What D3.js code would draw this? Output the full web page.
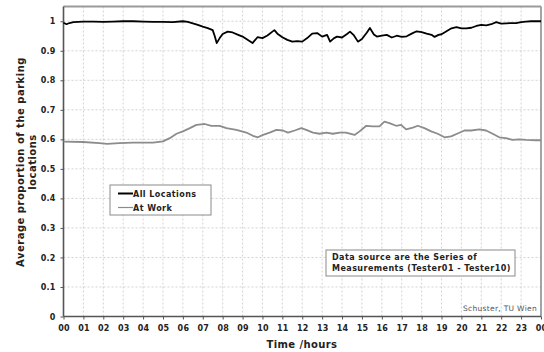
<!DOCTYPE html>
<html>
<head>
<meta charset="utf-8">
<script src="https://cdn.jsdelivr.net/npm/d3@7"></script>
<style>
  html, body { margin: 0; padding: 0; background: #fff; }
  svg { display: block; }
  text { font-family: "DejaVu Sans", Verdana, sans-serif; }
</style>
</head>
<body>
<svg id="chart" width="544" height="352"></svg>
<script>
// Hour-of-day ticks along the x axis
const hourLabels = ["00","01","02","03","04","05","06","07","08","09","10","11",
  "12","13","14","15","16","17","18","19","20","21","22","23","00"];
const yTicks = [0, 0.1, 0.2, 0.3, 0.4, 0.5, 0.6, 0.7, 0.8, 0.9, 1];
const yTickLabels = ["0","0.1","0.2","0.3","0.4","0.5","0.6","0.7","0.8","0.9","1"];

// All Locations: time of day (hours) and average proportion
const allTimes = [0, 0.15, 0.3, 0.5, 0.75, 1, 1.5, 2, 2.5, 3, 3.5, 4, 4.5, 5, 5.5, 6, 6.25, 6.5, 6.75,
  7, 7.25, 7.5, 7.6, 7.7, 7.85, 8, 8.25, 8.5, 8.75, 9, 9.25, 9.5, 9.75, 10, 10.25, 10.5, 10.6,
  10.75, 11, 11.25, 11.5, 11.75, 12, 12.25, 12.5, 12.75, 13, 13.25, 13.4, 13.6, 13.75, 14,
  14.25, 14.4, 14.6, 14.8, 15, 15.25, 15.4, 15.6, 15.75, 16, 16.25, 16.5, 16.75, 17, 17.25,
  17.5, 17.75, 18, 18.25, 18.5, 18.65, 18.85, 19, 19.25, 19.5, 19.75, 20, 20.25, 20.5, 20.75,
  21, 21.25, 21.5, 21.75, 22, 22.25, 22.5, 22.75, 23, 23.25, 23.5, 23.75, 24];
const allValues = [0.995, 0.99, 0.994, 0.997, 0.998, 0.999, 0.999, 0.998, 0.999, 1.0, 1.0, 0.999,
  0.998, 0.998, 0.997, 1.0, 0.998, 0.993, 0.988, 0.982, 0.977, 0.97, 0.95, 0.926, 0.943, 0.957,
  0.965, 0.962, 0.955, 0.948, 0.937, 0.926, 0.946, 0.943, 0.952, 0.965, 0.97, 0.958, 0.946,
  0.937, 0.931, 0.933, 0.931, 0.943, 0.958, 0.96, 0.948, 0.954, 0.931, 0.943, 0.948, 0.945,
  0.957, 0.965, 0.952, 0.931, 0.94, 0.962, 0.977, 0.955, 0.948, 0.951, 0.954, 0.945, 0.951,
  0.947, 0.949, 0.958, 0.966, 0.963, 0.958, 0.954, 0.947, 0.954, 0.956, 0.966, 0.976, 0.98,
  0.976, 0.976, 0.978, 0.984, 0.988, 0.986, 0.99, 0.997, 0.992, 0.993, 0.994, 0.994, 0.997,
  0.999, 1.0, 1.0, 1.0];

// At Work: time of day (hours) and average proportion
const workTimes = [0, 1, 1.8, 2.2, 2.8, 3.5, 4.5, 5.0, 5.34, 5.68, 6.0, 6.35, 6.68, 6.93, 7.1,
  7.43, 7.85, 8.19, 8.69, 9.19, 9.52, 9.77, 10.03, 10.36, 10.7, 11.03, 11.28, 11.62, 11.95,
  12.2, 12.54, 12.87, 13.21, 13.54, 13.88, 14.2, 14.63, 14.88, 15.22, 15.55, 15.88, 16.13,
  16.38, 16.72, 16.97, 17.22, 17.56, 17.81, 18.14, 18.48, 18.81, 19.15, 19.48, 19.81, 20.15,
  20.49, 20.9, 21.24, 21.57, 21.9, 22.24, 22.57, 22.9, 23.25, 23.75, 24];
const workValues = [0.592, 0.591, 0.587, 0.585, 0.587, 0.589, 0.589, 0.593, 0.604, 0.619, 0.627,
  0.638, 0.649, 0.651, 0.652, 0.646, 0.646, 0.638, 0.632, 0.623, 0.612, 0.607, 0.615, 0.623,
  0.632, 0.63, 0.623, 0.63, 0.638, 0.632, 0.623, 0.619, 0.623, 0.619, 0.623, 0.623, 0.615,
  0.627, 0.646, 0.644, 0.644, 0.66, 0.655, 0.646, 0.649, 0.634, 0.64, 0.646, 0.638, 0.627,
  0.619, 0.607, 0.61, 0.62, 0.63, 0.63, 0.634, 0.63, 0.619, 0.607, 0.604, 0.598, 0.6, 0.598,
  0.597, 0.597];

const seriesNames = ["All Locations", "At Work"];
const seriesColors = ["#000000", "#8c8c8c"];

const svg = d3.select("#chart");
const plotLeft = 63.5, plotRight = 541, plotTop = 6.5, plotBottom = 316.5;

const x = d3.scaleLinear().domain([0, 24]).range([plotLeft, plotRight]);
const y = d3.scaleLinear().domain([0, 1.05]).range([plotBottom, plotTop]);

// dashed grid
const grid = svg.append("g");
grid.selectAll("line.v").data(d3.range(1, 24)).join("line")
  .attr("x1", d => x(d)).attr("x2", d => x(d))
  .attr("y1", plotTop).attr("y2", plotBottom)
  .attr("stroke", "#c8c8c8").attr("stroke-width", 0.8).attr("stroke-dasharray", "2,2");
grid.selectAll("line.h").data(yTicks.slice(1)).join("line")
  .attr("x1", plotLeft).attr("x2", plotRight)
  .attr("y1", d => y(d)).attr("y2", d => y(d))
  .attr("stroke", "#c8c8c8").attr("stroke-width", 0.8).attr("stroke-dasharray", "2,2");

// frame: top and right
svg.append("line").attr("x1", plotLeft).attr("x2", plotRight).attr("y1", plotTop).attr("y2", plotTop)
  .attr("stroke", "#9a9a9a").attr("stroke-width", 1.8);
svg.append("line").attr("x1", plotRight).attr("x2", plotRight).attr("y1", plotTop).attr("y2", plotBottom)
  .attr("stroke", "#9a9a9a").attr("stroke-width", 1.8);

// axes
const xAxis = d3.axisBottom(x).tickValues(d3.range(0, 25)).tickSize(3).tickPadding(6)
  .tickFormat((d, i) => hourLabels[i]);
const gx = svg.append("g").attr("transform", `translate(0,${plotBottom})`).call(xAxis);
const yAxis = d3.axisLeft(y).tickValues(yTicks).tickSize(3).tickPadding(5)
  .tickFormat((d, i) => yTickLabels[i]);
const gy = svg.append("g").attr("transform", `translate(${plotLeft},0)`).call(yAxis);

[gx, gy].forEach(g => {
  g.select(".domain").attr("stroke", "#555").attr("stroke-width", 1.6);
  g.selectAll(".tick line").attr("stroke", "#555");
  g.selectAll(".tick text").attr("font-family", "DejaVu Sans, Verdana, sans-serif")
    .attr("font-size", 8).attr("font-weight", "bold").attr("fill", "#222")
    .style("letter-spacing", "0.2px");
});
gy.select(".domain").attr("d", `M0,${plotTop}V${plotBottom}`);
gx.select(".domain").attr("d", `M${plotLeft},0H${plotRight}`);

// series lines
const line = d3.line().x(d => x(d[0])).y(d => y(d[1]));
svg.append("path").datum(workTimes.map((t, i) => [t, workValues[i]]))
  .attr("d", line).attr("fill", "none").attr("stroke", seriesColors[1])
  .attr("stroke-width", 1.8).attr("stroke-linejoin", "round");
svg.append("path").datum(allTimes.map((t, i) => [t, allValues[i]]))
  .attr("d", line).attr("fill", "none").attr("stroke", seriesColors[0])
  .attr("stroke-width", 1.8).attr("stroke-linejoin", "round");

// axis titles
svg.append("text").attr("x", 302).attr("y", 348).attr("text-anchor", "middle")
  .attr("font-size", 10).attr("font-weight", "bold").attr("fill", "#222")
  .style("letter-spacing", "0.4px").text("Time /hours");
const yt = svg.append("text").attr("transform", "translate(24,162) rotate(-90)")
  .attr("text-anchor", "middle").attr("font-size", 10).attr("font-weight", "bold")
  .attr("fill", "#222").style("letter-spacing", "0.5px");
yt.append("tspan").attr("x", 0).attr("dy", 0).text("Average proportion of the parking");
yt.append("tspan").attr("x", 0).attr("dy", 12).text("locations");

// legend
const lg = svg.append("g").attr("transform", "translate(110,185)");
lg.append("rect").attr("width", 101).attr("height", 30).attr("fill", "#fff")
  .attr("stroke", "#8a8a8a").attr("stroke-width", 1);
seriesNames.forEach((name, i) => {
  const yy = 8.5 + i * 14;
  lg.append("line").attr("x1", 8).attr("x2", 23).attr("y1", yy).attr("y2", yy)
    .attr("stroke", seriesColors[i]).attr("stroke-width", i === 0 ? 2 : 1.2);
  lg.append("text").attr("x", 23).attr("y", yy + 3).attr("font-size", 8)
    .attr("font-weight", "bold").attr("fill", "#222").style("letter-spacing", "0.45px").text(name);
});

// data source note
const note = svg.append("g").attr("transform", "translate(326,250)");
note.append("rect").attr("width", 189).attr("height", 26).attr("fill", "#fff")
  .attr("stroke", "#8a8a8a").attr("stroke-width", 1);
note.append("text").attr("x", 6).attr("y", 10).attr("font-size", 8).attr("font-weight", "bold")
  .attr("fill", "#222").style("letter-spacing", "0.45px").text("Data source are the Series of");
note.append("text").attr("x", 6).attr("y", 21).attr("font-size", 8).attr("font-weight", "bold")
  .attr("fill", "#222").style("letter-spacing", "0.45px").text("Measurements (Tester01 - Tester10)");

// credit
svg.append("text").attr("x", 537).attr("y", 311).attr("text-anchor", "end")
  .attr("font-size", 7.5).attr("fill", "#555").style("letter-spacing", "0.3px")
  .text("Schuster, TU Wien");
</script>
</body>
</html>
